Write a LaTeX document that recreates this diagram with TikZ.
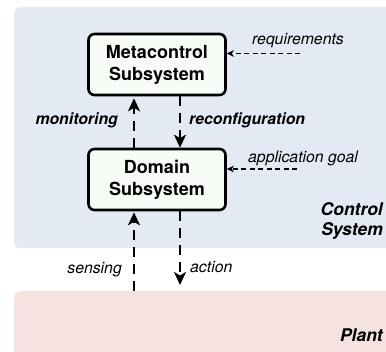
\documentclass[tikz,border=0pt]{standalone}
\usepackage{fontspec}
\setmainfont{TeX Gyre Heros}
\usetikzlibrary{arrows.meta,positioning}
\definecolor{ctrlblue}{RGB}{228,234,244}
\definecolor{plantpink}{RGB}{246,226,224}
\definecolor{boxfill}{RGB}{247,252,247}
\tikzset{area/.style={rectangle,rounded corners=6pt,draw=none,anchor=north west,
 minimum width=420pt,inner sep=0pt},
 subsys/.style={rectangle,rounded corners=6pt,draw=black,fill=boxfill,
 line width=2.6pt,minimum width=137pt,minimum height=61pt,align=center,
 font=\fontsize{18}{22}\selectfont\bfseries},
 flow/.style={line width=2.7pt,dash pattern=on 10pt off 7pt,
 -{Stealth[length=13pt,width=12pt,inset=3.5pt]}},
 cue/.style={line width=1.2pt,dash pattern=on 5pt off 3.5pt,
 -{Stealth[length=7pt,width=6.5pt,inset=2pt]}},
 lbl/.style={font=\fontsize{15.8}{18}\selectfont\itshape,inner sep=0pt},
 blbl/.style={lbl,font=\fontsize{15.8}{18}\selectfont\bfseries\itshape},
 arealbl/.style={font=\fontsize{17.5}{20}\selectfont\bfseries\itshape,
 align=right,inner sep=0pt}}

\begin{document}
\begin{tikzpicture}[x=1pt,y=-1pt]
 \clip (0,0) rectangle (386,352);
 % the two layers
 \node[area,fill=ctrlblue,minimum height=241pt] (ctrl) at (14,7) {};
 \node[area,fill=plantpink,minimum height=100pt] (plant) at (14,291) {};
 \node[arealbl,anchor=north east] (ctrllbl) at (383,202) {Control\\System};
 \node[arealbl,anchor=base east] (plantlbl) at (383,342) {Plant};
 % subsystems
 \node[subsys] (meta) at (157,64.5) {Metacontrol\\Subsystem};
 \node[subsys] (domain) at (157,179.5) {Domain\\Subsystem};
 \coordinate (lx) at (134,0);
 \coordinate (rx) at (180,0);
 \draw[flow,shorten >=2pt] (domain.north -| lx) -- (meta.south -| lx);
 \draw[flow] (meta.south -| rx) -- (domain.north -| rx);
 \draw[flow,shorten >=1pt] (plant.north -| lx) -- (domain.south -| lx);
 \draw[flow,shorten >=6pt] (domain.south -| rx) -- (plant.north -| rx);
 \node[blbl,anchor=base east] (monlbl) at (118,125) {monitoring};
 \node[blbl,anchor=base west] (reconflbl) at (189,125) {reconfiguration};
 \node[lbl,anchor=base east] (senselbl) at (122,274) {sensing};
 \node[lbl,anchor=base west] (actlbl) at (190,273) {action};
 % external inputs
 \coordinate (req) at (300,53.5);
 \coordinate (goal) at (297,169);
 \draw[cue] (req) -- (req -| meta.east);
 \draw[cue] (goal) -- (goal -| domain.east);
 \node[lbl,anchor=base west] (reqlbl) at (252,45) {requirements};
 \node[lbl,anchor=base west] (goallbl) at (248,163) {application goal};
\end{tikzpicture}
\end{document}
